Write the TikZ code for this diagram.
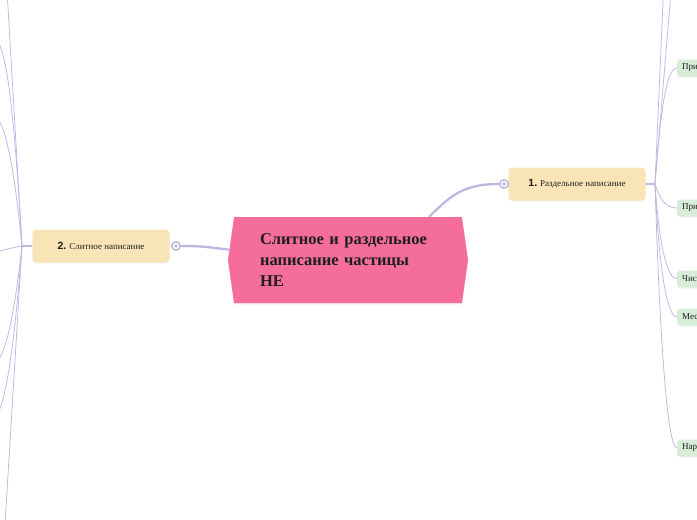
\documentclass[tikz,border=0pt]{standalone}
\usepackage{fontspec}
\setmainfont{Liberation Serif}
\newfontfamily\numfont{Liberation Sans}
\usetikzlibrary{shapes.symbols,shadows}

\definecolor{rootpink}{HTML}{F46D9B}
\definecolor{topicsand}{HTML}{F8E4B6}
\definecolor{leafgreen}{HTML}{D8EDD7}
\definecolor{branchline}{HTML}{BDB6E1}
\definecolor{inkgray}{HTML}{1E1E1E}

\tikzset{
  root/.style={signal, signal to=west and east, signal pointer angle=164,
    fill=rootpink, minimum width=240pt, minimum height=86pt, inner sep=0pt,
    text=inkgray, font=\bfseries\fontsize{16.5}{21}\selectfont,
    align=left, text width=176pt,
    drop shadow={shadow xshift=0pt, shadow yshift=-1.5pt, opacity=.12}},
  topic/.style={rounded corners=4pt, fill=topicsand, minimum width=137pt,
    minimum height=33pt, inner sep=0pt, text=inkgray,
    font=\fontsize{9}{10}\selectfont,
    drop shadow={shadow xshift=0pt, shadow yshift=-1pt, opacity=.10}},
  leaf/.style={rounded corners=3pt, fill=leafgreen, anchor=west,
    minimum width=40pt, minimum height=17pt, inner xsep=5pt, inner ysep=0pt,
    text width=30pt, align=left, text=inkgray,
    font=\fontsize{9}{10}\selectfont,
    drop shadow={shadow xshift=0pt, shadow yshift=-1pt, opacity=.10}},
  knob/.style={circle, draw=branchline, line width=1.5pt, fill=white,
    minimum size=8.5pt, inner sep=0pt},
  trunk/.style={draw=branchline, line width=2.3pt},
  stem/.style={draw=branchline, line width=1.6pt},
  branch/.style={draw=branchline, line width=.75pt}
}

\begin{document}
\begin{tikzpicture}[x=1pt, y=-1pt]
  \useasboundingbox (0,0) rectangle (697,520);
  \clip (0,0) rectangle (697,520);

  % main topic and the two sides
  \node[root] (root) at (348,260) {Слитное и раздельное\\написание частицы\\НЕ};
  \node[topic] (sep) at (577,184) {{\numfont\bfseries\fontsize{10.5}{10}\selectfont 1.} Раздельное написание};
  \node[topic] (join) at (101,246) {{\numfont\bfseries\fontsize{10.5}{10}\selectfont 2.} Слитное написание};

  \node[knob] (ksep) at (504,184) {};
  \node[knob] (kjoin) at (176,246) {};
  \fill[branchline] (ksep) circle (1.8pt);
  \fill[branchline] (kjoin) circle (1.8pt);

  \draw[trunk] (root.28) .. controls +(22,-22) and +(-35,0) .. (ksep.west);
  \draw[trunk] (root.175) .. controls +(-20,-2) and +(25,0) .. (kjoin.east);

  % right side leaves
  \coordinate (rj) at (655,184);
  \node[leaf] (adj1) at (677,68) {При};
  \node[leaf] (adj2) at (677,208) {При};
  \node[leaf] (num) at (677,279) {Чис};
  \node[leaf] (pron) at (677,317) {Мес};
  \node[leaf] (adv) at (677,448) {Нар};
  \coordinate (upa) at (664,-20);
  \coordinate (upb) at (672,-20);

  \draw[stem] (sep.east) -- (rj);
  \draw[branch] (rj) -- (upa);
  \draw[branch] (rj) -- (upb);
  \draw[branch] (rj) .. controls +(6,-80) and +(-10,0) .. (adj1.west);
  \draw[branch] (rj) .. controls +(5,15) and +(-12,0) .. (adj2.west);
  \draw[branch] (rj) .. controls +(4,60) and +(-10,0) .. (num.west);
  \draw[branch] (rj) .. controls +(4,85) and +(-10,0) .. (pron.west);
  \draw[branch] (rj) .. controls +(6,190) and +(-8,0) .. (adv.west);

  % left side, leaves out of view
  \coordinate (lj) at (22,246);
  \coordinate (lup) at (7,-10);
  \coordinate (la) at (-10,36);
  \coordinate (lb) at (-10,113);
  \coordinate (lc) at (-10,252);
  \coordinate (ld) at (-10,366);
  \coordinate (le) at (-10,421);
  \coordinate (ldown) at (4,540);

  \draw[stem] (join.west) -- (lj);
  \draw[branch] (lj) -- (lup);
  \draw[branch] (lj) -- (ldown);
  \draw[branch] (lj) .. controls +(-10,-170) and +(14,0) .. (la);
  \draw[branch] (lj) .. controls +(-10,-100) and +(12,0) .. (lb);
  \draw[branch] (lj) .. controls +(-8,1) and +(8,0) .. (lc);
  \draw[branch] (lj) .. controls +(-10,90) and +(12,0) .. (ld);
  \draw[branch] (lj) .. controls +(-10,130) and +(12,0) .. (le);
\end{tikzpicture}
\end{document}
